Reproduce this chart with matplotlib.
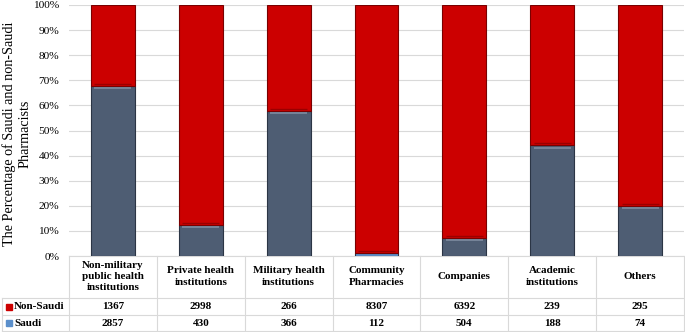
import matplotlib
matplotlib.use('Agg')

import matplotlib.pyplot as plt
import matplotlib.transforms as mtransforms
import numpy as np


# ===============================
# DATA
# ===============================
categories = [
    "Non-military\npublic health\ninstitutions",
    "Private health\ninstitutions",
    "Military health\ninstitutions",
    "Community\nPharmacies",
    "Companies",
    "Academic\ninstitutions",
    "Others",
]
non_saudi = [1367, 2998, 266, 8307, 6392, 239, 295]
saudi = [2857, 430, 366, 112, 504, 188, 74]
series_names = ["Non-Saudi", "Saudi"]
y_ticks = np.arange(0, 101, 10)

# ===============================
# STYLE
# ===============================
plt.rcParams['font.family'] = ['Liberation Serif', 'DejaVu Serif']
red = '#CC0000'
red_edge = '#7A0000'
slate = '#4E5D73'
slate_edge = '#2B3545'
light_blue = '#5B8FCB'
grid_col = '#D9D9D9'
tfs = 8.0  # table font size

W, H = 685, 332
fig = plt.figure(figsize=(W / 100, H / 100), dpi=100)

left_px, right_px = 69, 684
top_px, zero_px = 5, 256
ax = fig.add_axes([left_px / W, (H - zero_px) / H,
                   (right_px - left_px) / W, (zero_px - top_px) / H])

ns = np.array(non_saudi, dtype=float)
sa = np.array(saudi, dtype=float)
total = ns + sa
sa_pct = sa / total * 100
ns_pct = ns / total * 100

x = np.arange(len(categories))
bw = 0.5

saudi_colors = [slate] * len(x)
saudi_colors[3] = light_blue
ax.bar(x, sa_pct, width=bw, color=saudi_colors, edgecolor=slate_edge,
       linewidth=0.8, zorder=3)
ax.bar(x, ns_pct, bottom=sa_pct, width=bw, color=red, edgecolor=red_edge,
       linewidth=0.8, zorder=3)

# bevel highlight at the top of each segment
for xi, s, n in zip(x, sa_pct, ns_pct):
    if s > 2:
        ax.plot([xi - bw / 2 + 0.04, xi + bw / 2 - 0.04], [s - 0.9, s - 0.9],
                color='#7D8BA0', lw=1.2, zorder=4, solid_capstyle='butt')
    ax.plot([xi - bw / 2 + 0.04, xi + bw / 2 - 0.04], [s + 0.8, s + 0.8],
            color='#9A0000', lw=1.0, zorder=4, solid_capstyle='butt')

ax.set_xlim(-0.5, len(categories) - 0.5)
ax.set_ylim(0, 100)
ax.set_yticks(y_ticks)
ax.set_yticklabels([f"{v}%" for v in y_ticks], fontsize=8.2)
ax.set_xticks([])
ax.grid(axis='y', color=grid_col, linewidth=0.8, zorder=0)
ax.tick_params(axis='y', length=0, pad=7)
for sp in ax.spines.values():
    sp.set_visible(False)

fig.text(17 / W, (H - 134) / H,
         "The Percentage of Saudi and non-Saudi\nPharmacists",
         rotation=90, ha='center', va='center', fontsize=10.2,
         linespacing=1.3, multialignment='center')

# ===============================
# DATA TABLE
# ===============================
trans = mtransforms.blended_transform_factory(ax.transData, fig.transFigure)
fy = lambda py: (H - py) / H
header_bot = 298
row1_bot = 315
row2_bot = 331

line_kw = dict(color=grid_col, lw=0.8, transform=trans, clip_on=False)
bounds = np.arange(len(categories) + 1) - 0.5
for b in bounds:
    ax.plot([b, b], [fy(zero_px), fy(row2_bot)], **line_kw)
# left edge of row labels
lbl_x = -0.5 - (left_px - 2) / ((right_px - left_px) / len(categories))
ax.plot([lbl_x, lbl_x], [fy(header_bot), fy(row2_bot)], **line_kw)
for py in (zero_px, header_bot, row1_bot, row2_bot):
    x0 = -0.5 if py == zero_px else lbl_x
    ax.plot([x0, bounds[-1]], [fy(py), fy(py)], **line_kw)

for xi, cat in zip(x, categories):
    ax.text(xi, fy((zero_px + header_bot) / 2 - 0.5), cat, transform=trans,
            ha='center', va='center', fontsize=tfs, fontweight='bold',
            linespacing=1.3)
for xi, v in zip(x, non_saudi):
    ax.text(xi, fy((header_bot + row1_bot) / 2), str(v), transform=trans,
            ha='center', va='center', fontsize=tfs, fontweight='bold')
for xi, v in zip(x, saudi):
    ax.text(xi, fy((row1_bot + row2_bot) / 2), str(v), transform=trans,
            ha='center', va='center', fontsize=tfs, fontweight='bold')

# row labels with legend keys
for name, col, (ytop, ybot) in zip(series_names, [red, light_blue],
                                   [(header_bot, row1_bot), (row1_bot, row2_bot)]):
    yc = fy((ytop + ybot) / 2)
    fig.patches.append(plt.Rectangle((6 / W, yc - 3 / H), 6 / W, 6 / H,
                                     color=col, transform=fig.transFigure))
    fig.text(14 / W, yc, name, ha='left', va='center', fontsize=tfs,
             fontweight='bold')

plt.savefig("out.png", dpi=100)
plt.close()
